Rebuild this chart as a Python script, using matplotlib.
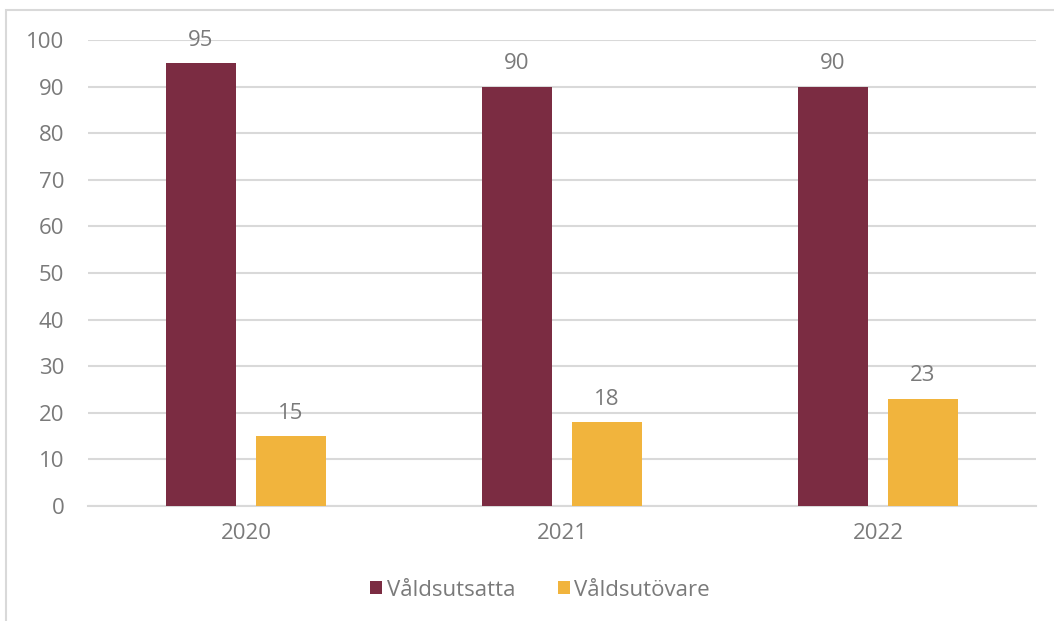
import matplotlib
matplotlib.use("Agg")
import matplotlib.pyplot as plt
from matplotlib.patches import Rectangle
import numpy as np

categories = ["2020", "2021", "2022"]
series_names = ["Våldsutsatta", "Våldsutövare"]
utsatta = [95, 90, 90]
utovare = [15, 18, 23]
colors = ["#7B2C42", "#F1B43D"]
yticks = [0, 10, 20, 30, 40, 50, 60, 70, 80, 90, 100]

plt.rcParams['font.family'] = ['Open Sans', 'DejaVu Sans']
txt = "#7a7a7a"
fs = 16
W, H = 1054, 621
fig = plt.figure(figsize=(W/100, H/100), dpi=100)
fig.patches.append(Rectangle((6/W, -0.1), 1.2, (H-10)/H + 0.1, transform=fig.transFigure,
                             fill=False, edgecolor="#d9d9d9", linewidth=1.5))
ax = fig.add_axes([88/W, 1-506/H, (1036-88)/W, (506-40)/H])

x = np.arange(len(categories))
bw = 0.2215
off = 0.1424
b1 = ax.bar(x - off, utsatta, bw, color=colors[0], label=series_names[0], zorder=3)
b2 = ax.bar(x + off, utovare, bw, color=colors[1], label=series_names[1], zorder=3)
for bars in (b1, b2):
    for r in bars:
        ax.annotate(f"{r.get_height():g}", (r.get_x() + r.get_width()/2, r.get_height()),
                    xytext=(0, 9), textcoords="offset points", ha="center", va="bottom",
                    fontsize=fs, color=txt)

ax.set_xlim(-0.5, 2.5)
ax.set_ylim(0, 100)
ax.set_yticks(yticks)
ax.set_xticks(x)
ax.set_xticklabels(categories)
ax.yaxis.grid(True, color="#d9d9d9", linewidth=1.5, zorder=0)
ax.set_axisbelow(True)
for s in ax.spines.values():
    s.set_visible(False)
ax.spines['bottom'].set_visible(True)
ax.spines['bottom'].set_color("#d9d9d9")
ax.spines['bottom'].set_linewidth(1.5)
ax.tick_params(axis='both', length=0, labelsize=fs, labelcolor=txt)
ax.tick_params(axis='y', pad=17)
ax.tick_params(axis='x', pad=12)

leg = fig.legend(handles=[b1, b2], loc="center", bbox_to_anchor=(540/W, 1-590/H), ncol=2,
                 frameon=False, fontsize=fs, handlelength=0.55, handleheight=0.55,
                 handletextpad=0.2, columnspacing=1.9, labelcolor=txt)
fig.savefig("out.png", dpi=100)
